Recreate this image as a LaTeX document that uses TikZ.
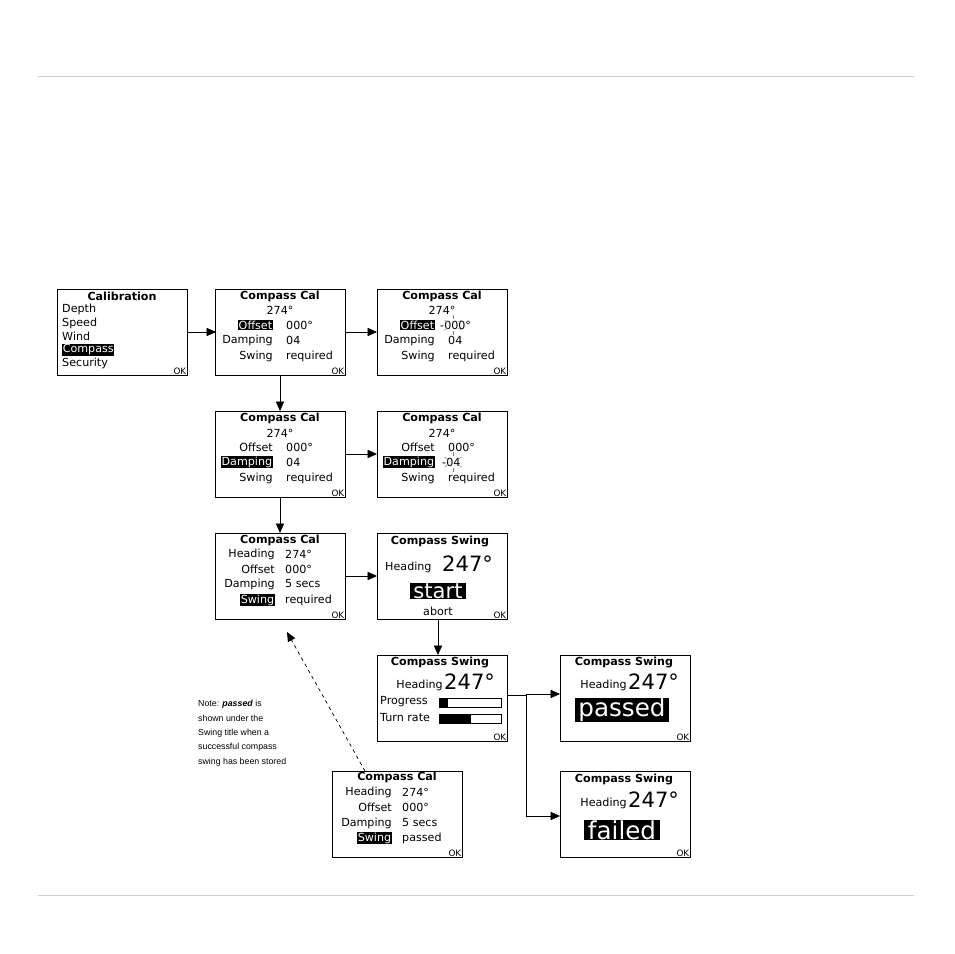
\documentclass[tikz,border=0pt]{standalone}
\usepackage{fontspec}
\setmainfont{DejaVu Sans}
\newfontfamily\notefont{Liberation Sans}
\usetikzlibrary{arrows.meta,positioning}
\tikzset{
    screen/.style={draw,thin,inner sep=0pt},
    arr/.style={->,>={Triangle[length=8pt,width=7pt]},semithick},
    scrtext/.style={font=\fontsize{9.5}{10}\selectfont,inner sep=0pt},
    scrtitle/.style={font=\bfseries\fontsize{9.5}{10}\selectfont,inner sep=0pt},
    inv/.style={fill=black,text=white,inner sep=0.5pt},
    big/.style={font=\fontsize{18}{18}\selectfont,inner sep=0pt},
    huge/.style={font=\fontsize{21}{21}\selectfont,inner sep=1pt},
    okmark/.style={font=\fontsize{7.5}{8}\selectfont,inner sep=0.5pt,anchor=south east},
    bar/.style={draw,thin},
    rule/.style={gray!40,thin},
    sparkle/.style={gray,thin},
}
\newcommand{\screenbox}[3]{% name, x, y (top left)
  \draw[screen] (#2,#3) rectangle ++(130,86);
  \coordinate (#1) at (#2+65,#3+43);
  \node[okmark] at (#2+130,#3+86) {OK};}
\begin{document}
\begin{tikzpicture}[x=0.03cm,y=-0.03cm]
\useasboundingbox (0,0) rectangle (954,954);
\draw[rule] (38,76) -- (914,76);
\draw[rule] (38,895) -- (914,895);

% calibration menu
\screenbox{calib}{57}{289}
\node[scrtitle] at (122,296) {Calibration};
\foreach \item [count=\i] in {Depth,Speed,Wind}
  \node[scrtext,anchor=west] at (62,296+13.5*\i) {\item};
\node[scrtext,inv,anchor=west] at (62,350) {Compass};
\node[scrtext,anchor=west] at (62,363) {Security};

% compass cal, offset selected
\screenbox{calA}{215}{289}
\node[scrtitle] at (280,296) {Compass Cal};
\node[scrtext] at (280,310) {274°};
\node[scrtext,inv,anchor=east] at (273,325) {Offset};
\node[scrtext,anchor=west] at (286,325) {000°};
\node[scrtext,anchor=east] at (273,340) {Damping};
\node[scrtext,anchor=west] at (286,340) {04};
\node[scrtext,anchor=east] at (273,356) {Swing};
\node[scrtext,anchor=west] at (286,356) {required};

% compass cal, offset editing
\screenbox{calB}{377}{289}
\node[scrtitle] at (442,296) {Compass Cal};
\node[scrtext] at (442,310) {274°};
\node[scrtext,inv,anchor=east] at (435,325) {Offset};
\node[scrtext,anchor=west] at (440,325) {-000°};
\node[scrtext,anchor=east] at (435,340) {Damping};
\node[scrtext,anchor=west] at (448,340) {04};
\node[scrtext,anchor=east] at (435,356) {Swing};
\node[scrtext,anchor=west] at (448,356) {required};
\foreach \a in {30,90,150,210,270,330}
  \draw[sparkle] (453,325)++(\a:6) -- ++(\a:4);

% compass cal, damping selected
\screenbox{calC}{215}{411}
\node[scrtitle] at (280,418) {Compass Cal};
\node[scrtext] at (280,433) {274°};
\node[scrtext,anchor=east] at (273,447) {Offset};
\node[scrtext,anchor=west] at (286,447) {000°};
\node[scrtext,inv,anchor=east] at (273,462) {Damping};
\node[scrtext,anchor=west] at (286,462) {04};
\node[scrtext,anchor=east] at (273,478) {Swing};
\node[scrtext,anchor=west] at (286,478) {required};

% compass cal, damping editing
\screenbox{calD}{377}{411}
\node[scrtitle] at (442,418) {Compass Cal};
\node[scrtext] at (442,433) {274°};
\node[scrtext,anchor=east] at (435,447) {Offset};
\node[scrtext,anchor=west] at (448,447) {000°};
\node[scrtext,inv,anchor=east] at (435,462) {Damping};
\node[scrtext,anchor=west] at (442,462) {-04};
\node[scrtext,anchor=east] at (435,478) {Swing};
\node[scrtext,anchor=west] at (448,478) {required};
\foreach \a in {30,90,150,210,270,330}
  \draw[sparkle] (453,462)++(\a:6) -- ++(\a:4);

% compass cal, swing selected
\screenbox{calE}{215}{533}
\node[scrtitle] at (280,540) {Compass Cal};
\foreach \lab/\val/\yy in {Heading/274°/554,Offset/000°/569,Damping/5 secs/584}{
  \node[scrtext,anchor=east] at (275,\yy) {\lab};
  \node[scrtext,anchor=west] at (285,\yy) {\val};}
\node[scrtext,inv,anchor=east] at (275,600) {Swing};
\node[scrtext,anchor=west] at (285,600) {required};

% compass swing start
\screenbox{swingA}{377}{533}
\node[scrtitle] at (440,541) {Compass Swing};
\node[scrtext,anchor=west] at (385,567) {Heading};
\node[big,anchor=west] at (442,564) {247°};
\node[big,inv,inner xsep=3pt] at (438,591) {start};
\node[scrtext] at (438,611) {abort};

% compass swing progress
\screenbox{swingB}{377}{655}
\node[scrtitle] at (440,662) {Compass Swing};
\node[scrtext,anchor=east] at (443,685) {Heading};
\node[big,anchor=west] at (444,682) {247°};
\node[scrtext,anchor=west] at (380,702) {Progress};
\draw[bar] (439,698) rectangle (501,707);
\fill (439,698) rectangle (448,707);
\node[scrtext,anchor=west] at (380,718) {Turn rate};
\draw[bar] (439,714) rectangle (501,723);
\fill (439,714) rectangle (471,723);

% compass swing passed
\screenbox{swingC}{560}{655}
\node[scrtitle] at (624,662) {Compass Swing};
\node[scrtext,anchor=east] at (627,685) {Heading};
\node[big,anchor=west] at (628,682) {247°};
\node[huge,inv,inner xsep=3pt] at (622,710) {passed};

% compass swing failed
\screenbox{swingD}{560}{771}
\node[scrtitle] at (624,779) {Compass Swing};
\node[scrtext,anchor=east] at (627,803) {Heading};
\node[big,anchor=west] at (628,800) {247°};
\node[huge,inv,inner xsep=3pt] at (622,830) {failed};

% compass cal, swing passed
\screenbox{calF}{332}{771}
\node[scrtitle] at (397,777) {Compass Cal};
\foreach \lab/\val/\yy in {Heading/274°/792,Offset/000°/807,Damping/5 secs/823}{
  \node[scrtext,anchor=east] at (392,\yy) {\lab};
  \node[scrtext,anchor=west] at (402,\yy) {\val};}
\node[scrtext,inv,anchor=east] at (392,838) {Swing};
\node[scrtext,anchor=west] at (402,838) {passed};

% note
\node[font=\notefont\fontsize{7.5}{12.3}\selectfont,align=left,anchor=north west,inner sep=0pt] (note) at (198,700)
  {Note: \textbf{\textit{passed}} is\\shown under the\\Swing title when a\\successful compass\\swing has been stored};

% connectors
\draw[arr] (calib) ++(65,0) -- ++(29,0);
\draw[arr] (calA) ++(65,0) -- ++(32,0);
\draw[arr] (calA) ++(0,43) -- ++(0,36);
\draw[arr] (calC) ++(65,0) -- ++(32,0);
\draw[arr] (calC) ++(0,43) -- ++(0,36);
\draw[arr] (calE) ++(65,0) -- ++(32,0);
\draw[arr] (swingA) ++(-4,43) -- ++(0,36);
\coordinate (split) at (526,694);
\draw[semithick] (swingB) ++(65,-3) -- ++(19,0);
\draw[arr] (split) -- (560,694);
\draw[arr] (split) -- (526,816) -- (560,816);
\draw[arr,dashed] (calF) ++(-32,-43) -- (287,632);
\end{tikzpicture}
\end{document}
